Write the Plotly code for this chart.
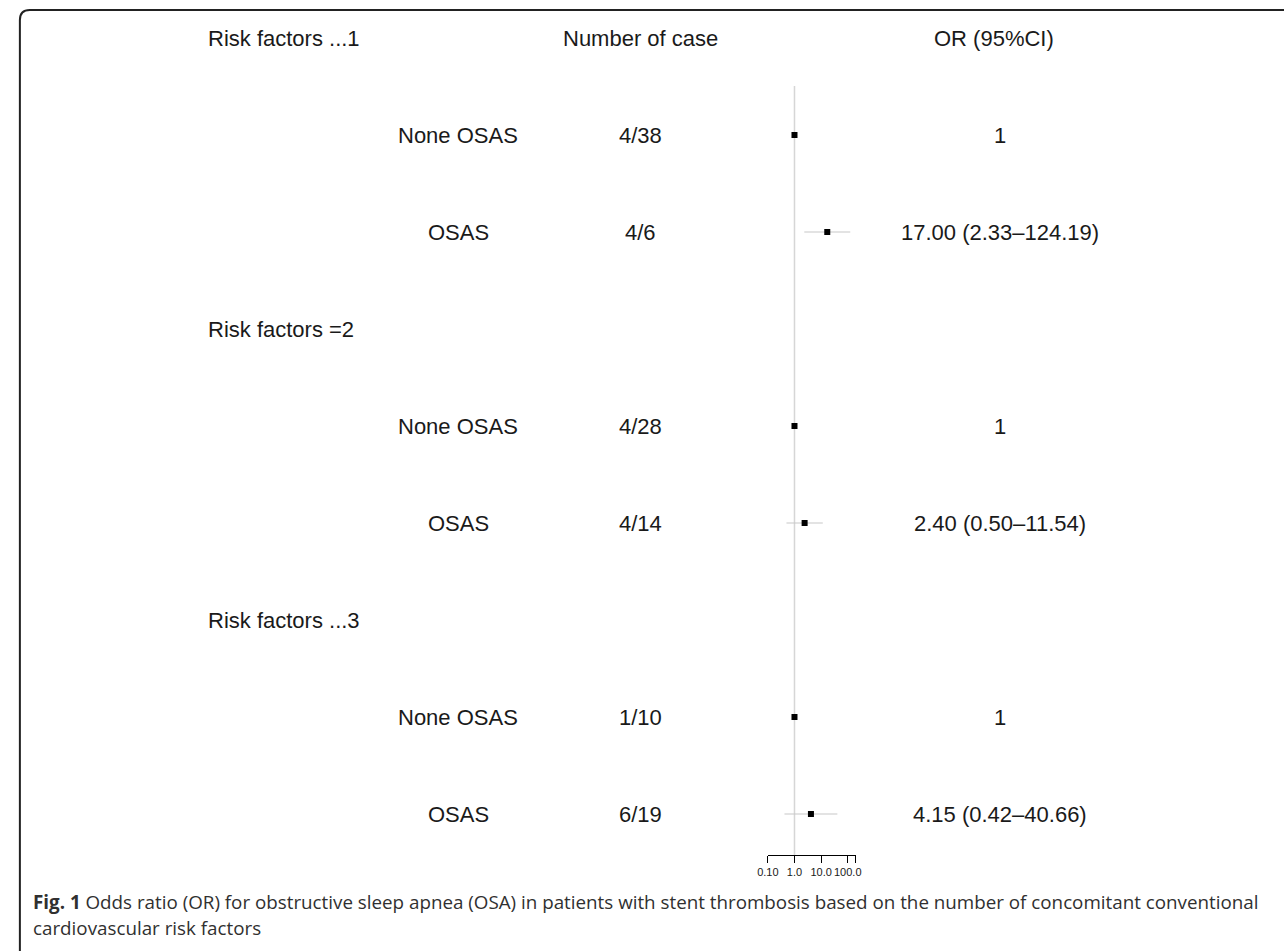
import plotly.graph_objects as go

W, H = 1284, 951

# ---------------- data ----------------
header_labels = ["Number of case", "OR (95%CI)"]
groups = ["Risk factors ...1", "Risk factors =2", "Risk factors ...3"]
subgroups = ["None OSAS", "OSAS", "None OSAS", "OSAS", "None OSAS", "OSAS"]
cases = ["4/38", "4/6", "4/28", "4/14", "1/10", "6/19"]
or_vals = [1.0, 17.00, 1.0, 2.40, 1.0, 4.15]
ci_lo = [None, 2.33, None, 0.50, None, 0.42]
ci_hi = [None, 124.19, None, 11.54, None, 40.66]
or_text = ["1", "17.00 (2.33\u2013124.19)", "1", "2.40 (0.50\u201311.54)", "1", "4.15 (0.42\u201340.66)"]
tick_vals = [0.1, 1.0, 10.0, 100.0]
tick_text = ["0.10", "1.0", "10.0", "100.0"]
axis_max = 198.0

# rows: 0 header/group1, 1-2 group1, 3 group2, 4-5, 6 group3, 7-8
group_rows = [0, 3, 6]
item_rows = [1, 2, 4, 5, 7, 8]

# ---------------- layout helpers ----------------
def px(x):
    return x / W

def py(y):
    return 1 - y / H

ROW0, ROWSTEP = 38.0, 97.0
y_top_row = (0 - ROW0) / ROWSTEP
y_bot_row = (H - ROW0) / ROWSTEP

FONT = "Liberation Sans, Arial, Helvetica, sans-serif"
TXT = "#1a1a1a"

fig = go.Figure()

# CI lines
cx, cy = [], []
for r, lo, hi in zip(item_rows, ci_lo, ci_hi):
    if lo is not None:
        cx += [lo, hi, None]
        cy += [r, r, None]
fig.add_trace(go.Scatter(x=cx, y=cy, mode="lines",
                         line=dict(color="#c8c8c8", width=1.2),
                         hoverinfo="skip", showlegend=False))
# point estimates
fig.add_trace(go.Scatter(x=or_vals, y=item_rows, mode="markers",
                         marker=dict(symbol="square", size=6, color="black"),
                         showlegend=False))

# reference line at OR = 1
fig.add_shape(type="line", xref="x", yref="paper", x0=1, x1=1,
              y0=py(855), y1=py(86), line=dict(color="#d6d6d6", width=1.5),
              layer="below")

annotations = []
def add_text(text, x, row, anchor="center", size=22, color=TXT, family=FONT):
    annotations.append(dict(text=text, x=x, xref="paper", y=row, yref="y",
                            xanchor=anchor, yanchor="middle", showarrow=False,
                            font=dict(family=family, size=size, color=color)))

COL_GROUP, COL_SUB, COL_N, COL_OR, COL_OR_HEAD = 198, 453, 638, 1002, 996
for g, r in zip(groups, group_rows):
    add_text(g, px(COL_GROUP), r, anchor="left")
add_text(header_labels[0], px(COL_N), 0)
add_text(header_labels[1], px(COL_OR_HEAD), 0)
for s, c, o, r in zip(subgroups, cases, or_text, item_rows):
    add_text(s, px(COL_SUB), r)
    add_text(c, px(COL_N), r)
    add_text(o, px(COL_OR), r)

# caption
CAP_FONT = "Open Sans, Noto Sans, sans-serif"
CAP = dict(family=CAP_FONT, size=18.8, color="#303030")
annotations.append(dict(
    text="<b>Fig. 1</b> Odds ratio (OR) for obstructive sleep apnea (OSA) in patients with stent thrombosis based on the number of concomitant conventional",
    x=px(20), y=py(902), xref="paper", yref="paper", xanchor="left", yanchor="middle",
    showarrow=False, font=CAP))
annotations.append(dict(
    text="cardiovascular risk factors",
    x=px(20), y=py(928), xref="paper", yref="paper", xanchor="left", yanchor="middle",
    showarrow=False, font=CAP))

# frame (rounded top-left corner, open beyond image edges)
rad = 10
path = (f"M {px(9)},{py(960)} L {px(9)},{py(10 + rad)} "
        f"Q {px(9)},{py(10)} {px(9 + rad)},{py(10)} L {px(1300)},{py(10)}")
fig.add_shape(type="path", xref="paper", yref="paper", path=path,
              line=dict(color="#222222", width=2))

fig.update_layout(
    width=W, height=H, autosize=False,
    margin=dict(l=0, r=0, t=0, b=0),
    paper_bgcolor="white", plot_bgcolor="white",
    annotations=annotations,
    xaxis=dict(type="log", range=[-1, 2.2967], domain=[px(767), px(856)],
               anchor="free", position=py(855),
               showgrid=False, zeroline=False, showline=True,
               linecolor="black", linewidth=1.2,
               tickmode="array", tickvals=tick_vals + [axis_max],
               ticktext=tick_text + [""],
               ticks="outside", ticklen=7, tickwidth=1.2, tickcolor="black",
               tickfont=dict(family=FONT, size=11, color=TXT)),
    yaxis=dict(range=[y_bot_row, y_top_row], domain=[0, 1], visible=False,
               showgrid=False, zeroline=False),
)

fig.write_html("out.html", config={"displayModeBar": False},
               post_script="document.body.style.margin='0px';document.body.style.overflow='hidden';")
